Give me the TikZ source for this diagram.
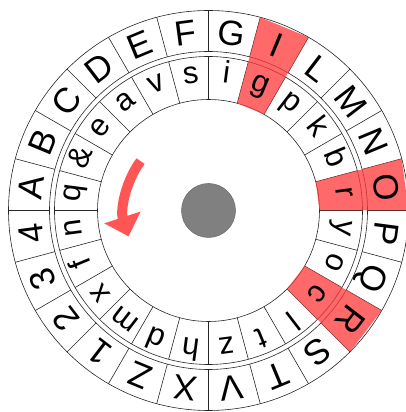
\documentclass[tikz,border=0pt]{standalone}
\usepackage{fontspec}
\setmainfont{Liberation Sans}
\usetikzlibrary{arrows.meta}
\definecolor{hl}{RGB}{255,55,55}
\definecolor{arrowred}{RGB}{255,85,85}
\definecolor{hubgray}{RGB}{128,128,128}
\definecolor{hubedge}{RGB}{105,105,105}
\begin{document}
\begin{tikzpicture}[x=1pt,y=1pt,
  ringline/.style={draw=black!85,line width=0.6pt},
  outerletter/.style={font=\fontsize{35}{35}\selectfont,anchor=base,inner sep=0pt},
  innerletter/.style={font=\fontsize{31}{31}\selectfont,anchor=base,inner sep=0pt},
  hlsector/.style={fill=hl,fill opacity=0.75,draw=none}]
\useasboundingbox (0,0) rectangle (406,412);
\clip (0,0) rectangle (406,412);
\begin{scope}[shift={(208.5,201.5)}]
\coordinate (c) at (0,0);
% rings
\draw[ringline] (c) circle (200);
\draw[ringline] (c) circle (159);
\draw[ringline] (c) circle (154);
\draw[ringline] (c) circle (111);
\foreach \k in {0,...,23}{
  \pgfmathsetmacro\ang{90-15*\k}
  \draw[ringline] (\ang:159) -- (\ang:200);
  \draw[ringline] (\ang:111) -- (\ang:154);
}
% highlighted sectors (I, O, R)
\foreach \k in {1,5,8}{
  \pgfmathsetmacro\aa{90-15*\k}
  \pgfmathsetmacro\ab{75-15*\k}
  \fill[hlsector] (\aa:200) -- (\ab:200) -- (\ab:111) -- (\aa:111) -- cycle;
}
% outer letters
\foreach \L [count=\k from 0] in {G,I,L,M,N,O,P,Q,R,S,T,V,X,Z,1,2,3,4,A,B,C,D,E,F}{
  \node[outerletter, rotate={-7.5-15*\k}] (o\k) at ({82.5-15*\k}:167) {\L};
}
% inner letters
\foreach \L [count=\k from 0] in {i,g,p,k,b,r,y,o,c,l,t,z,h,d,m,x,f,n,q,\&,e,a,v,s}{
  \node[innerletter, rotate={-7.5-15*\k}] (i\k) at ({82.5-15*\k}:128.5) {\L};
}
% hub
\node[circle, fill=hubgray, draw=hubedge, line width=0.5pt, minimum size=54pt, inner sep=0pt] (hub) at (c) {};
% rotation arrow
\draw[arrowred, line width=10pt, -{Triangle[width=37pt,length=20pt]}] (144:84) arc[start angle=144, end angle=198, radius=84];
\end{scope}
\end{tikzpicture}
\end{document}
